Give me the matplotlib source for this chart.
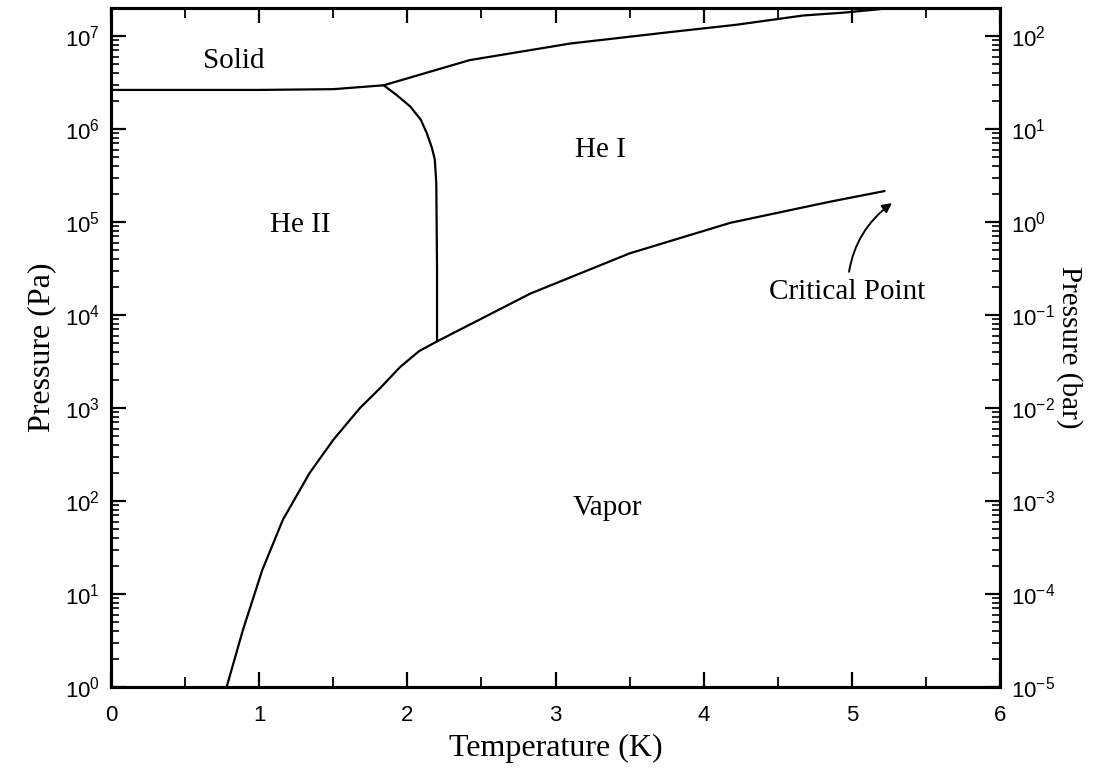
import matplotlib
matplotlib.use("Agg")
import matplotlib.pyplot as plt
from matplotlib.ticker import LogLocator, NullFormatter, MultipleLocator, FixedLocator, FixedFormatter

# Helium-4 phase diagram: temperature (K) vs pressure (Pa)

# Melting curve (solid / liquid boundary)
melt_T = [0.0, 0.5, 1.0, 1.5, 1.84, 2.42, 3.10, 3.77, 4.22, 4.67, 4.94, 5.20]
melt_P = [2.63e6, 2.63e6, 2.63e6, 2.68e6, 2.95e6, 5.5e6, 8.3e6, 1.10e7, 1.32e7, 1.66e7, 1.78e7, 1.95e7]

# Lambda line (He I / He II boundary)
lam_T = [1.84, 1.93, 2.02, 2.09, 2.13, 2.165, 2.185, 2.195, 2.20, 2.20]
lam_P = [2.95e6, 2.3e6, 1.74e6, 1.26e6, 9.1e5, 6.3e5, 4.7e5, 2.6e5, 3.2e4, 5.2e3]

# Saturated vapour pressure curve, ending at the critical point
vap_T = [0.78, 0.89, 1.02, 1.16, 1.34, 1.50, 1.68, 1.82, 1.95, 2.08, 2.20,
         2.83, 3.50, 4.18, 4.85, 5.22]
vap_P = [1.0, 4.1, 18, 63, 200, 455, 1000, 1660, 2750, 4100, 5200,
         17000, 46000, 98000, 165000, 215000]

# Region labels: (text, T, P)
region_text = ["Solid", "He II", "He I", "Vapor"]
region_T = [0.83, 1.28, 3.30, 3.35]
region_P = [5.4e6, 9.3e4, 5.9e5, 84]

crit_label = "Critical Point"
crit_T, crit_P = 5.27, 1.6e5
crit_label_T, crit_label_P = 4.97, 1.78e4

x_ticks = [0, 1, 2, 3, 4, 5, 6]
left_exps = [0, 1, 2, 3, 4, 5, 6, 7]
right_exps = [-5, -4, -3, -2, -1, 0, 1, 2]

P_MIN, P_MAX = 1.0, 2.0e7
PA_PER_BAR = 1e5

SERIF = "Liberation Serif"
SANS = "Liberation Sans"
plt.rcParams["font.family"] = SANS
plt.rcParams["mathtext.default"] = "regular"

fig = plt.figure(figsize=(10.93, 7.83), dpi=100)
ax = fig.add_axes([0.1016, 0.1226, 0.8134, 0.8672])

line_kw = dict(color="black", lw=1.6, solid_capstyle="round", solid_joinstyle="round")
ax.plot(melt_T, melt_P, **line_kw)
ax.plot(lam_T, lam_P, **line_kw)
ax.plot(vap_T, vap_P, **line_kw)

ax.set_yscale("log")
ax.set_xlim(0, 6)
ax.set_ylim(P_MIN, P_MAX)

for t, x, p in zip(region_text, region_T, region_P):
    ax.text(x, p, t, family=SERIF, fontsize=21, ha="center", va="center")

ax.annotate(crit_label, xy=(crit_T, crit_P), xytext=(crit_label_T, crit_label_P),
            family=SERIF, fontsize=21, ha="center", va="center",
            arrowprops=dict(arrowstyle="-|>", color="black", lw=1.4,
                            mutation_scale=14, shrinkA=3, shrinkB=0,
                            connectionstyle="arc3,rad=-0.25"))

# x axis: integers labelled, half-kelvin minor ticks, ticks on top as well
ax.xaxis.set_major_locator(FixedLocator(x_ticks))
ax.xaxis.set_major_formatter(FixedFormatter([str(v) for v in x_ticks]))
ax.xaxis.set_minor_locator(MultipleLocator(0.5))
ax.tick_params(axis="x", which="both", direction="in", top=True, bottom=True)
ax.tick_params(axis="x", which="major", length=11, width=1.6, labelsize=16, pad=13)
ax.tick_params(axis="x", which="minor", length=7, width=1.3)

# left y axis: pressure in Pa
ax.yaxis.set_major_locator(FixedLocator([10.0 ** e for e in left_exps]))
ax.yaxis.set_major_formatter(FixedFormatter([f"$10^{{{e}}}$" for e in left_exps]))
ax.yaxis.set_minor_locator(LogLocator(base=10, subs=range(2, 10), numticks=20))
ax.yaxis.set_minor_formatter(NullFormatter())
ax.tick_params(axis="y", which="both", direction="in", left=True, right=False)
ax.tick_params(axis="y", which="major", length=11, width=1.6, labelsize=16, pad=8)
ax.tick_params(axis="y", which="minor", length=6, width=1.2)

for s in ax.spines.values():
    s.set_linewidth(2.2)

ax.set_xlabel("Temperature (K)", family=SERIF, fontsize=23, labelpad=6)
ax.set_ylabel("Pressure (Pa)", family=SERIF, fontsize=23, labelpad=6)

# right y axis: same pressure in bar
ax2 = ax.twinx()
ax2.set_yscale("log")
ax2.set_ylim(P_MIN / PA_PER_BAR, P_MAX / PA_PER_BAR)
ax2.yaxis.set_major_locator(FixedLocator([10.0 ** e for e in right_exps]))
ax2.yaxis.set_major_formatter(FixedFormatter([f"$10^{{{e}}}$" for e in right_exps]))
ax2.yaxis.set_minor_locator(LogLocator(base=10, subs=range(2, 10), numticks=20))
ax2.yaxis.set_minor_formatter(NullFormatter())
ax2.tick_params(axis="y", which="both", direction="in")
ax2.tick_params(axis="y", which="major", length=11, width=1.6, labelsize=16, pad=8)
ax2.tick_params(axis="y", which="minor", length=6, width=1.2)
for s in ax2.spines.values():
    s.set_linewidth(2.2)
ax2.set_ylabel("Pressure (bar)", family=SERIF, fontsize=21, rotation=270, labelpad=20)

fig.savefig("out.png", dpi=100)
